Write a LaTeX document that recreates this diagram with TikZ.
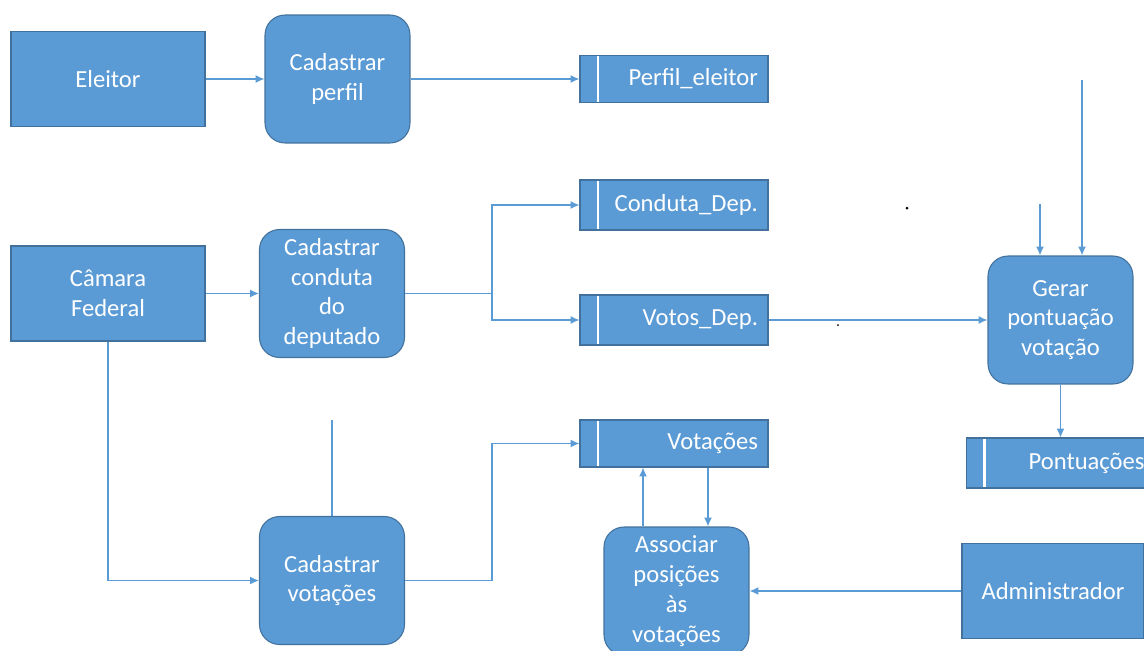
\documentclass[tikz,border=0pt]{standalone}
\usepackage{fontspec}
\setmainfont{Carlito}
\definecolor{officeblue}{RGB}{91,155,213}
\definecolor{darkblue}{RGB}{65,113,156}
\usetikzlibrary{arrows.meta}

\begin{document}
\begin{tikzpicture}[
  x=0.02cm, y=-0.02cm,
  font=\fontsize{14}{17}\selectfont,
  entity/.style={
    rectangle, draw=darkblue, fill=officeblue, text=white,
    minimum width=3.88cm, minimum height=1.9cm,
    align=center, line width=0.6pt
  },
  process/.style={
    rectangle, draw=darkblue, fill=officeblue, text=white,
    minimum width=2.9cm, minimum height=2.56cm, inner sep=1pt,
    align=center, rounded corners=0.4cm, line width=0.6pt
  },
  store/.style={
    rectangle, draw=darkblue, fill=officeblue, text=white,
    minimum width=3.76cm, minimum height=1cm, text width=3.36cm,
    align=right, line width=0.6pt,
    path picture={\draw[white, line width=1.2pt]
      ([xshift=0.36cm]path picture bounding box.north west) --
      ([xshift=0.36cm]path picture bounding box.south west);}
  },
  arrow/.style={-{Latex[length=5pt,width=4.5pt]}, officeblue, line width=0.8pt},
  link/.style={officeblue, line width=0.8pt}
]
\clip (0,0) rectangle (1144,650);

% external entities
\node[entity] (eleitor) at (108,79) {Eleitor};
\node[entity] (camara) at (108,293.5) {Câmara\\Federal};
\node[entity, minimum width=3.64cm] (admin) at (1053,591) {Administrador};

% processes
\node[process] (cperfil) at (337.5,79) {Cadastrar\\perfil};
\node[process] (cconduta) at (332,293.5) {Cadastrar\\conduta\\do\\deputado};
\node[process] (cvotacoes) at (332,580.5) {Cadastrar\\votações};
\node[process] (associar) at (676.5,591) {Associar\\posições\\às\\votações};
\node[process] (gerar) at (1060.5,320) {Gerar\\pontuação\\votação};

% data stores
\node[store, minimum height=0.94cm] (perfil) at (674,79) {Perfil\_eleitor};
\node[store] (conduta) at (674,205) {Conduta\_Dep.};
\node[store] (votos) at (674,320) {Votos\_Dep.};
\node[store, minimum height=0.94cm] (votacoes) at (674,443.5) {Votações};
\node[store] (pontuacoes) at (1060.5,463) {Pontuações};

% free ends
\coordinate (split) at (492,293.5);
\coordinate (join) at (492,580.5);
\coordinate (top1) at (1040,204);
\coordinate (top2) at (1082,80);
\coordinate (up) at (332,420);

\draw[arrow] (eleitor.east) -- (cperfil.west);
\draw[arrow] (cperfil.east) -- (perfil.west);
\draw[arrow] (camara.east) -- (cconduta.west);
\draw[link] (cconduta.east) -- (split);
\draw[arrow] (split) |- (conduta.west);
\draw[arrow] (split) |- (votos.west);
\draw[arrow] (votos.east) -- (gerar.west);
\draw[arrow] (top1) -- (top1 |- gerar.north);
\draw[arrow] (top2) -- (top2 |- gerar.north);
\draw[arrow] (gerar.south) -- (pontuacoes.north);
\draw[arrow] (camara.south) |- (cvotacoes.west);
\draw[link] (cvotacoes.north) -- (up);
\draw[arrow] (cvotacoes.east) -- (join) |- (votacoes.west);
\draw[arrow] ([xshift=-0.67cm]associar.north) -- ([xshift=-0.67cm]associar.north |- votacoes.south);
\draw[arrow] ([xshift=0.63cm]associar.north |- votacoes.south) -- ([xshift=0.63cm]associar.north);
\draw[arrow] (admin.west) -- (associar.east);

% stray dots
\fill (907,208) circle (1.5);
\fill (838,325) circle (1);
\end{tikzpicture}
\end{document}
